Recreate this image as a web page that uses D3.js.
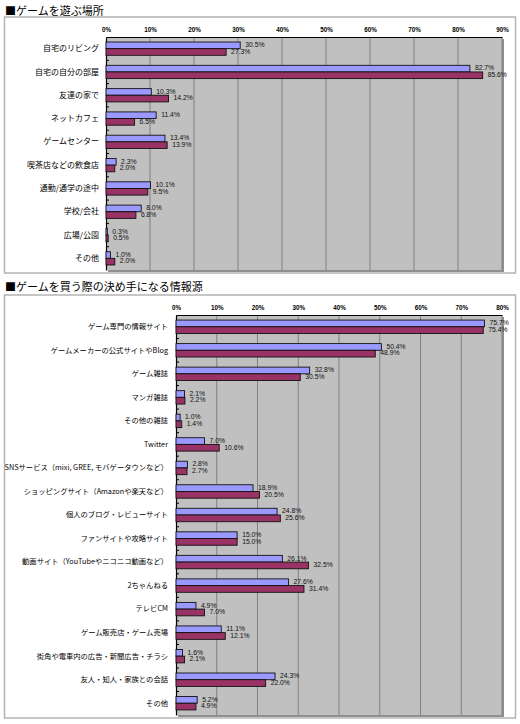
<!DOCTYPE html>
<html>
<head>
<meta charset="utf-8">
<script src="https://cdn.jsdelivr.net/npm/d3@7"></script>
<style>
body { margin: 0; background: #fff; }
text { font-family: "Noto Sans CJK JP", "Liberation Sans", sans-serif; }
</style>
</head>
<body>
<div id="chart"></div>
<script>
// ゲームを遊ぶ場所
const placeCategories = ['自宅のリビング', '自宅の自分の部屋', '友達の家で', 'ネットカフェ', 'ゲームセンター',
	'喫茶店などの飲食店', '通勤/通学の途中', '学校/会社', '広場/公園', 'その他'];
const placeBlue = [30.5, 82.7, 10.3, 11.4, 13.4, 2.3, 10.1, 8.0, 0.3, 1.0];
const placeRed = [27.3, 85.6, 14.2, 6.5, 13.9, 2.0, 9.5, 6.8, 0.5, 2.0];
const placeTicks = [0, 10, 20, 30, 40, 50, 60, 70, 80, 90];

// ゲームを買う際の決め手になる情報源
const sourceCategories = ['ゲーム専門の情報サイト', 'ゲームメーカーの公式サイトやBlog', 'ゲーム雑誌', 'マンガ雑誌',
	'その他の雑誌', 'Twitter', 'SNSサービス（mixi, GREE, モバゲータウンなど）', 'ショッピングサイト（Amazonや楽天など）',
	'個人のブログ・レビューサイト', 'ファンサイトや攻略サイト', '動画サイト（YouTubeやニコニコ動画など）', '2ちゃんねる',
	'テレビCM', 'ゲーム販売店・ゲーム売場', '街角や電車内の広告・新聞広告・チラシ', '友人・知人・家族との会話', 'その他'];
const sourceBlue = [75.7, 50.4, 32.8, 2.1, 1.0, 7.0, 2.8, 18.9, 24.8, 15.0, 26.1, 27.6, 4.9, 11.1, 1.6, 24.3, 5.2];
const sourceRed = [75.4, 48.9, 30.5, 2.2, 1.4, 10.6, 2.7, 20.5, 25.6, 15.0, 32.5, 31.4, 7.0, 12.1, 2.1, 22.0, 4.9];
const sourceTicks = [0, 10, 20, 30, 40, 50, 60, 70, 80];

const seriesColors = ['#9999ff', '#993366'];

var svg = d3.select('#chart')
	.append('svg')
	.attr('width', 520)
	.attr('height', 724);

const drawPanel = (opt) => {
	var g = svg.append('g');

	// title + frame
	g.append('text')
		.attr('x', 5)
		.attr('y', opt.titleY)
		.style('font-size', '11px')
		.style('fill', '#000')
		.text(opt.title);

	g.append('rect')
		.attr('x', 4.5)
		.attr('y', opt.frame[0])
		.attr('width', 511)
		.attr('height', opt.frame[1] - opt.frame[0])
		.style('fill', 'none')
		.style('stroke', '#b4b4b4')
		.style('stroke-width', 1.5);

	var x = d3.scaleLinear()
		.domain([0, d3.max(opt.ticks)])
		.range([opt.left, opt.right]);

	var y = d3.scaleBand()
		.domain(opt.categories)
		.range([opt.top, opt.bottom])
		.paddingInner(0.43)
		.paddingOuter(0.215);

	var ySeries = d3.scaleBand()
		.domain([0, 1])
		.range([0, y.bandwidth()]);

	// plot area with shadow
	g.append('rect')
		.attr('x', opt.left + 2)
		.attr('y', opt.top + 2)
		.attr('width', opt.right - opt.left)
		.attr('height', opt.bottom - opt.top)
		.style('fill', '#8e8e8e');
	g.append('rect')
		.attr('x', opt.left)
		.attr('y', opt.top)
		.attr('width', opt.right - opt.left)
		.attr('height', opt.bottom - opt.top)
		.style('fill', '#c0c0c0');

	// vertical grid lines
	g.selectAll('line.grid')
		.data(opt.ticks.filter((t) => t > 0))
		.enter()
		.append('line')
		.attr('class', 'grid')
		.attr('x1', (d) => x(d))
		.attr('x2', (d) => x(d))
		.attr('y1', opt.top)
		.attr('y2', opt.bottom)
		.style('stroke', '#808080')
		.style('stroke-width', 1);

	// top axis
	var xAxis = d3.axisTop(x)
		.tickValues(opt.ticks)
		.tickFormat((d) => d + '%')
		.tickSize(0)
		.tickPadding(5);
	var ax = g.append('g')
		.attr('transform', 'translate(0,' + opt.top + ')')
		.call(xAxis);
	ax.select('.domain').style('stroke', '#000').style('stroke-width', 1.2);
	ax.selectAll('text')
		.style('font-family', '"Liberation Sans", Arial, sans-serif')
		.style('font-size', '6.3px')
		.style('font-weight', 'bold')
		.style('fill', '#000');

	// left axis with ticks between categories
	var ay = g.append('g')
		.attr('transform', 'translate(' + opt.left + ',0)')
		.call(d3.axisLeft(y).tickSize(0).tickPadding(opt.labelPad));
	ay.select('.domain').style('stroke', '#000').style('stroke-width', 1.2);
	ay.selectAll('text')
		.style('font-size', opt.labelSize)
		.style('fill', '#000');

	g.selectAll('line.ytick')
		.data(opt.categories.slice(1))
		.enter()
		.append('line')
		.attr('class', 'ytick')
		.attr('x1', opt.left)
		.attr('x2', opt.left + 3)
		.attr('y1', (d) => y(d) - y.step() * y.paddingInner() / 2)
		.attr('y2', (d) => y(d) - y.step() * y.paddingInner() / 2)
		.style('stroke', '#000');

	// bars
	var rows = opt.categories.map((c, i) => ({ cat: c, values: [opt.blue[i], opt.red[i]] }));
	var groups = g.selectAll('g.cat')
		.data(rows)
		.enter()
		.append('g')
		.attr('class', 'cat')
		.attr('transform', (d) => 'translate(0,' + y(d.cat) + ')');

	groups.selectAll('rect')
		.data((d) => d.values)
		.enter()
		.append('rect')
		.attr('x', x(0))
		.attr('y', (d, i) => ySeries(i))
		.attr('width', (d) => x(d) - x(0))
		.attr('height', ySeries.bandwidth())
		.style('fill', (d, i) => seriesColors[i])
		.style('stroke', '#111')
		.style('stroke-width', 0.9);

	groups.selectAll('text')
		.data((d) => d.values)
		.enter()
		.append('text')
		.attr('x', (d) => x(d) + 5)
		.attr('y', (d, i) => ySeries(i) + ySeries.bandwidth() / 2)
		.attr('dominant-baseline', 'middle')
		.style('font-family', '"Liberation Sans", Arial, sans-serif')
		.style('font-size', '6.8px')
		.style('fill', '#111')
		.text((d) => d.toFixed(1) + '%');
};

drawPanel({
	title: '■ゲームを遊ぶ場所',
	titleY: 15,
	frame: [17, 273],
	categories: placeCategories,
	blue: placeBlue,
	red: placeRed,
	ticks: placeTicks,
	left: 106,
	right: 502,
	top: 37,
	bottom: 270,
	labelPad: 7,
	labelSize: '8px'
});

drawPanel({
	title: '■ゲームを買う際の決め手になる情報源',
	titleY: 291,
	frame: [295, 718],
	categories: sourceCategories,
	blue: sourceBlue,
	red: sourceRed,
	ticks: sourceTicks,
	left: 176,
	right: 502,
	top: 315,
	bottom: 715,
	labelPad: 8,
	labelSize: '7.3px'
});
</script>
</body>
</html>
